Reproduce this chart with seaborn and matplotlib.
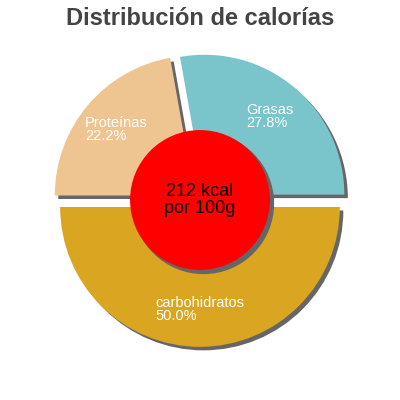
import matplotlib
matplotlib.use("Agg")
import matplotlib.pyplot as plt
import matplotlib.patches as mpatches
import seaborn as sns

title = "Distribución de calorías"
categories = ["Grasas", "Proteínas", "carbohidratos"]
values = [27.8, 22.2, 50.0]
colors = ["#7AC4CC", "#EEC591", "#DAA520"]
center_text = "212 kcal\npor 100g"

sns.set_theme(style="white")
plt.rcParams["font.family"] = ["Liberation Sans", "DejaVu Sans"]

fig = plt.figure(figsize=(4, 4), dpi=100)
ax = fig.add_axes([0, 0, 1, 1])

labels = [f"{c}\n{v:.1f}%" for c, v in zip(categories, values)]
shadow = {"ox": 0.018, "oy": -0.018, "facecolor": "#666666",
          "edgecolor": "#666666", "alpha": 1}
wedges, texts = ax.pie(
    values,
    labels=labels,
    colors=colors,
    startangle=0,
    explode=[0.05] * len(values),
    labeldistance=0.73,
    shadow=shadow,
    wedgeprops={"linewidth": 0},
    textprops={"color": "white", "fontsize": 10.5, "fontweight": "medium"},
)
for t in texts:
    t.set_ha("center")
    t.set_va("center")
    t.set_multialignment("left")
    t.set_linespacing(0.9)

circle = mpatches.Circle((0, 0), 0.5, facecolor="red", edgecolor="none", zorder=3)
ax.add_patch(circle)
ax.add_patch(mpatches.Shadow(circle, 0.018, -0.018, facecolor="#666666",
                             edgecolor="#666666", alpha=1))
ax.text(0, 0, center_text, ha="center", va="center", fontsize=13,
        color="black", linespacing=1.0, zorder=4)

ax.set_xlim(-1.43, 1.43)
ax.set_ylim(-1.43, 1.43)
ax.set_aspect("equal")
ax.axis("off")

fig.text(0.5, 0.9375, title, ha="center", va="baseline", fontsize=17,
         fontweight="bold", color="#444444")

fig.savefig("out.png", dpi=100)
